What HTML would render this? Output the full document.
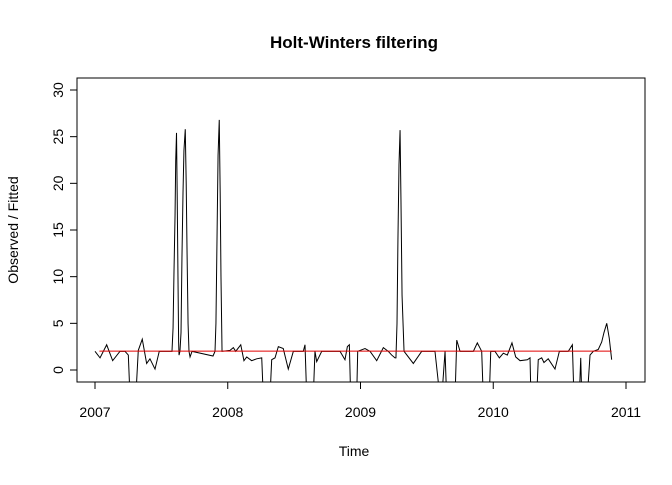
<!DOCTYPE html>
<html><head><meta charset="utf-8"><style>
body{margin:0;background:#fff;}
svg text{font-family:"Liberation Sans",Arial,sans-serif;fill:#000;}
</style></head><body>
<svg id="chart" width="672" height="480" viewBox="0 0 672 480" xmlns="http://www.w3.org/2000/svg">
<defs><clipPath id="plotclip"><rect x="77" y="78" width="568" height="304"/></clipPath></defs>
<text x="354" y="48" font-size="17" font-weight="bold" text-anchor="middle">Holt-Winters filtering</text>
<text x="354" y="456" font-size="14" text-anchor="middle">Time</text>
<text x="18" y="230" font-size="14" text-anchor="middle" transform="rotate(-90 18 230)">Observed / Fitted</text>
<rect x="77" y="78" width="568" height="304" fill="none" stroke="#000" stroke-width="1"/>
<g id="xaxis"></g>
<g id="yaxis"></g>
<g clip-path="url(#plotclip)">
<path id="observed" fill="none" stroke="#000" stroke-width="1"/>
<path id="fitted" fill="none" stroke="#e00000" stroke-width="1"/>
</g>
</svg>
<script>
const xTicks = [2007, 2008, 2009, 2010, 2011];
const yTicks = [0, 5, 10, 15, 20, 25, 30];
const obsTimes = [0,.038,.088,.133,.188,.226,.251,.264,.307,.326,.356,.389,.414,.452,.484,.565,.580,.588,.595,.603,.608,.614,.619,.625,.630,.633,.640,.648,.655,.663,.670,.680,.687,.693,.701,.708,.716,.731,.889,.904,.911,.919,.927,.936,.943,.949,.957,1.017,1.042,1.060,1.098,1.122,1.143,1.180,1.218,1.256,1.268,1.318,1.331,1.356,1.381,1.418,1.456,1.494,1.569,1.582,1.595,1.644,1.657,1.670,1.708,1.745,1.846,1.883,1.901,1.916,1.926,1.971,1.979,2.034,2.072,2.122,2.172,2.209,2.235,2.260,2.267,2.275,2.282,2.290,2.298,2.305,2.313,2.328,2.398,2.461,2.561,2.599,2.612,2.637,2.649,2.712,2.725,2.750,2.850,2.880,2.913,2.925,2.970,2.981,3.013,3.046,3.076,3.106,3.141,3.169,3.202,3.257,3.277,3.284,3.327,3.339,3.365,3.382,3.414,3.465,3.498,3.565,3.596,3.608,3.648,3.659,3.667,3.708,3.729,3.754,3.791,3.817,3.834,3.855,3.874,3.892];
const obsValues = [2.0,1.3,2.7,1.0,2.0,2.0,1.6,-3,-3,2.1,3.3,0.7,1.2,0.1,2.0,2.0,2.0,4.5,10.5,16.6,22.4,25.4,19,10,3,1.6,2.0,4,12,19,23.5,25.8,20,13,5,2,1.4,2.0,1.5,2.0,5,14,23,26.8,19,10,2.0,2.1,2.4,2.0,2.7,1.0,1.4,1.0,1.2,1.3,-3,-3,1.1,1.3,2.5,2.3,0.1,2.0,2.0,2.7,-3,-3,2.0,0.9,2.0,2.0,2.0,1.1,2.5,2.7,-3,-3,2.0,2.3,2.0,1.0,2.4,2.0,1.6,1.3,1.3,5,14,22,25.7,18,8,2.0,0.7,2.0,2.0,-3,-3,2.0,-3,-3,3.2,2.0,2.0,2.9,2.0,-3,-3,2.0,2.0,1.3,1.8,1.6,2.9,1.4,1.0,1.1,1.3,-3,-3,1.1,1.3,0.8,1.2,0.1,2.0,2.0,2.7,-3,-3,1.3,-3,-3,1.6,2.0,2.2,3.0,4.0,5.0,3.4,1.1];
const fittedStart = 2007.033, fittedEnd = 2010.892;
const fittedLevel = [2.02];

const sx = t => 95 + (t - 2007) * 132.75;
const sy = v => 370 - v * (280 / 30);
const NS = 'http://www.w3.org/2000/svg';
const xa = document.getElementById('xaxis'), ya = document.getElementById('yaxis');
function mk(tag, attrs, parent){const e=document.createElementNS(NS,tag);for(const k in attrs)e.setAttribute(k,attrs[k]);parent.appendChild(e);return e;}
mk('line',{x1:sx(xTicks[0]),x2:sx(xTicks[xTicks.length-1]),y1:382,y2:382,stroke:'#000'},xa);
xTicks.forEach(t=>{
  const l=mk('line',{x1:sx(t),x2:sx(t),y1:382,y2:389,stroke:'#000'},xa);
  
  
  const tx=mk('text',{x:sx(t),y:417,'font-size':14,'text-anchor':'middle'},xa);
  tx.textContent=t;
  
  
});
mk('line',{x1:77,x2:77,y1:sy(yTicks[0]),y2:sy(yTicks[yTicks.length-1]),stroke:'#000'},ya);
yTicks.forEach(v=>{
  const l=mk('line',{x1:70,x2:77,y1:sy(v),y2:sy(v),stroke:'#000'},ya);
  
  
  const tx=mk('text',{x:63,y:sy(v),'font-size':14,'text-anchor':'middle',transform:`rotate(-90 63 ${sy(v)})`},ya);
  tx.textContent=v;
  
  
});
let d='';
obsTimes.forEach((t,i)=>{d+=(i?'L':'M')+sx(2007+t).toFixed(2)+' '+sy(obsValues[i]).toFixed(2);});
document.getElementById('observed').setAttribute('d',d);
document.getElementById('fitted').setAttribute('d',`M${sx(fittedStart)} ${sy(fittedLevel[0])}L${sx(fittedEnd)} ${sy(fittedLevel[0])}`);
</script>
</body></html>
